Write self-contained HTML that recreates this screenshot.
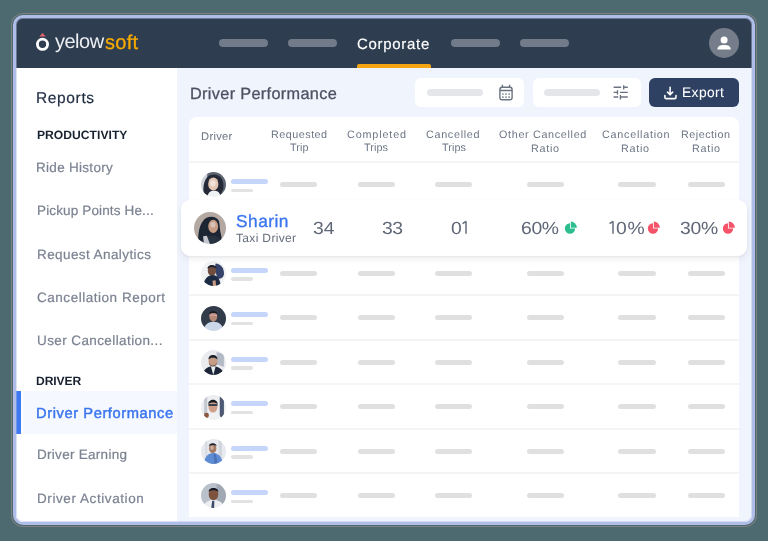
<!DOCTYPE html>
<html><head><meta charset="utf-8">
<style>
*{margin:0;padding:0;box-sizing:border-box}
html,body{width:768px;height:541px;overflow:hidden;background:#4c6a70;font-family:"Liberation Sans",sans-serif}
.abs{position:absolute}
.t{position:absolute;white-space:nowrap;line-height:1;will-change:transform;text-rendering:geometricPrecision}
#win{position:absolute;left:13px;top:15px;width:742px;height:510px;border:3px solid #afbde7;border-radius:10px;overflow:hidden;
 box-shadow:0 0 0 1px #4c6a70,0 0 0 2px #807f82;background:#f0f4fd}
.pill{position:absolute;height:8px;border-radius:4px;background:#727b89;top:21px;width:49px}
.sk{position:absolute;height:5.2px;width:37.2px;border-radius:3px;background:#e0e0e0}
.skb{position:absolute;height:5px;width:36.8px;border-radius:3px;background:#c6d6fb}
.sks{position:absolute;height:3.6px;width:22px;border-radius:2px;background:#e2e2e2}
.sep{position:absolute;left:173px;width:550px;height:2px;background:#f4f4f5}
</style></head><body>
<div id="win">
  <div class="abs" style="left:0;top:0;width:736px;height:49.50px;background:#2e3d50"></div>
  <svg class="abs" style="left:18px;top:13px" width="17" height="21" viewBox="0 0 17 21">
    <path d="M5.3 5.6 L8.5 2 L11.7 5.6 Z" fill="#ea656b"/>
    <circle cx="8.5" cy="13.3" r="5.1" fill="none" stroke="#fff" stroke-width="2.8"/>
  </svg>
  <div class="pill" style="left:202.80px"></div>
  <div class="pill" style="left:272.00px"></div>
  <div class="pill" style="left:435.00px"></div>
  <div class="pill" style="left:504.00px"></div>
  <div class="abs" style="left:341.00px;top:46.00px;width:74px;height:3.5px;background:#f5a511;border-radius:2px 2px 0 0"></div>
  <svg class="abs" style="left:693.30px;top:9.90px" width="30" height="30" viewBox="0 0 30 30">
    <circle cx="15" cy="15" r="15" fill="#757d8a"/>
    <circle cx="15.1" cy="11.9" r="3.5" fill="#fff"/><path d="M8.4 21.5 C8.4 18.3 11 16.9 15.1 16.9 C19.2 16.9 21.8 18.3 21.8 21.5 Z" fill="#fff"/>
  </svg>

  <div class="abs" style="left:0;top:49.50px;width:160.60px;height:470px;background:#fff"></div>
  <div class="abs" style="left:7.00px;top:373.00px;width:153.60px;height:42.8px;background:#f5f8fe"></div>
  <div class="abs" style="left:0;top:373.00px;width:5.2px;height:42.8px;background:#3f78f3"></div>

  <div class="abs" style="left:399.40px;top:59.80px;width:108.6px;height:28.8px;background:#fff;border-radius:6px"></div>
  <div class="abs" style="left:411.00px;top:70.60px;width:56px;height:7.4px;background:#e4e6ea;border-radius:4px"></div>
  <svg class="abs" style="left:482.00px;top:65.50px" width="16" height="18" viewBox="0 0 16 18">
    <rect x="1.9" y="3.2" width="12.2" height="12.6" rx="2.2" fill="none" stroke="#6b7281" stroke-width="1.4"/>
    <line x1="1.9" y1="6.5" x2="14.1" y2="6.5" stroke="#6b7281" stroke-width="1.3"/>
    <line x1="4.4" y1="0.8" x2="4.4" y2="3.6" stroke="#6b7281" stroke-width="1.4"/>
    <line x1="11.6" y1="0.8" x2="11.6" y2="3.6" stroke="#6b7281" stroke-width="1.4"/>
    <g fill="#6b7281"><circle cx="4.9" cy="10" r=".85"/><circle cx="8" cy="10" r=".85"/><circle cx="11.1" cy="10" r=".85"/><circle cx="4.9" cy="13.1" r=".85"/><circle cx="8" cy="13.1" r=".85"/><circle cx="11.1" cy="13.1" r=".85"/></g>
  </svg>
  <div class="abs" style="left:516.70px;top:59.80px;width:108.3px;height:28.8px;background:#fff;border-radius:6px"></div>
  <div class="abs" style="left:528.00px;top:70.60px;width:56px;height:7.4px;background:#e4e6ea;border-radius:4px"></div>
  <svg class="abs" style="left:596.00px;top:66.00px" width="17" height="17" viewBox="0 0 17 17">
    <g stroke="#6b7281" stroke-width="1.35" fill="none">
      <line x1="1.6" y1="3.2" x2="9.2" y2="3.2"/><line x1="11.7" y1="1.2" x2="11.7" y2="5.6"/><line x1="11.7" y1="3.2" x2="15.8" y2="3.2"/>
      <line x1="1.6" y1="8.3" x2="5.5" y2="8.3"/><line x1="5.5" y1="6.2" x2="5.5" y2="10.4"/><line x1="8" y1="8.3" x2="15.8" y2="8.3"/>
      <line x1="1.6" y1="13" x2="6.2" y2="13"/><line x1="8.4" y1="11" x2="8.4" y2="15.4"/><line x1="8.4" y1="13" x2="15.8" y2="13"/>
    </g>
  </svg>
  <div class="abs" style="left:633.00px;top:59.70px;width:90px;height:29.2px;background:#2e4163;border-radius:6px"></div>
  <svg class="abs" style="left:647.00px;top:67.50px" width="15" height="14" viewBox="0 0 15 14">
    <g stroke="#fff" stroke-width="1.6" fill="none" stroke-linecap="round" stroke-linejoin="round">
      <path d="M1.9 9.6 V11.2 Q1.9 12.6 3.3 12.6 H11.6 Q13 12.6 13 11.2 V9.6"/><path d="M7.1 1.4 V8.6"/><path d="M4.5 6.2 L7.1 8.7 L9.7 6.2"/>
    </g>
  </svg>

  <div class="abs" style="left:173.00px;top:99.00px;width:550px;height:399.5px;background:#fff;border-radius:8px 8px 0 0"></div>
  <div class="sep" style="top:143.10px"></div>
  <div class="sep" style="top:187.50px"></div><div class="sep" style="top:231.90px"></div><div class="sep" style="top:276.30px"></div><div class="sep" style="top:320.70px"></div><div class="sep" style="top:365.10px"></div><div class="sep" style="top:409.50px"></div><div class="sep" style="top:453.90px"></div><svg class="abs" style="left:185.20px;top:154.30px" width="25" height="25" viewBox="0 0 24 24"><defs><clipPath id="c0"><circle cx="12" cy="12" r="12"/></clipPath><filter id="f0" x="-10%" y="-10%" width="120%" height="120%"><feGaussianBlur stdDeviation="0.4"/></filter></defs><g clip-path="url(#c0)"><g filter="url(#f0)"><rect width="24" height="24" fill="#5d6470"/><rect width="6" height="24" fill="#cfd4db"/><path d="M3 24 C1 14 3 3 12 2.5 C20 2.5 22 9 21.5 16 L18 24 Z" fill="#252c39"/><ellipse cx="11.8" cy="11.5" rx="4.9" ry="6.3" fill="#e4c6b5"/><ellipse cx="11.5" cy="11" rx="2.6" ry="3" fill="#f0e2da"/><path d="M6 24 C7 19.5 9 18 12.5 18 C16 18 18 19.5 19 24 Z" fill="#f1f2f4"/></g></g></svg><div class="skb" style="left:214.90px;top:160.90px"></div><div class="sks" style="left:214.90px;top:170.50px"></div><div class="sk" style="left:264.30px;top:163.90px"></div><div class="sk" style="left:342.00px;top:163.90px"></div><div class="sk" style="left:418.70px;top:163.90px"></div><div class="sk" style="left:511.20px;top:163.90px"></div><div class="sk" style="left:602.40px;top:163.90px"></div><div class="sk" style="left:671.50px;top:163.90px"></div><svg class="abs" style="left:185.20px;top:243.18px" width="25" height="25" viewBox="0 0 24 24"><defs><clipPath id="c2"><circle cx="12" cy="12" r="12"/></clipPath><filter id="f2" x="-10%" y="-10%" width="120%" height="120%"><feGaussianBlur stdDeviation="0.4"/></filter></defs><g clip-path="url(#c2)"><g filter="url(#f2)"><rect width="24" height="24" fill="#f0f1f3"/><path d="M14 2.5 C19 3 22.5 7 22 13 C21.5 16 19 17.5 16 17 L13 8 Z" fill="#34436a"/><ellipse cx="10.5" cy="9" rx="4" ry="5.2" fill="#6f4e3e"/><path d="M6.3 7.5 C6 3 15 2.5 14.8 7.5 C13 5.5 8 5.5 6.3 7.5 Z" fill="#1d2330"/><path d="M2 24 C3 17 7 13.5 11 13.5 C15 13.5 18 16 19 24 Z" fill="#1e2a42"/><path d="M11 19 L14 18.5 L14.5 24 L11.5 24 Z" fill="#c89a80"/></g></g></svg><div class="skb" style="left:214.90px;top:249.78px"></div><div class="sks" style="left:214.90px;top:259.38px"></div><div class="sk" style="left:264.30px;top:252.78px"></div><div class="sk" style="left:342.00px;top:252.78px"></div><div class="sk" style="left:418.70px;top:252.78px"></div><div class="sk" style="left:511.20px;top:252.78px"></div><div class="sk" style="left:602.40px;top:252.78px"></div><div class="sk" style="left:671.50px;top:252.78px"></div><svg class="abs" style="left:185.20px;top:287.62px" width="25" height="25" viewBox="0 0 24 24"><defs><clipPath id="c3"><circle cx="12" cy="12" r="12"/></clipPath><filter id="f3" x="-10%" y="-10%" width="120%" height="120%"><feGaussianBlur stdDeviation="0.4"/></filter></defs><g clip-path="url(#c3)"><g filter="url(#f3)"><rect width="24" height="24" fill="#323a48"/><ellipse cx="11.8" cy="10" rx="3.8" ry="5" fill="#b58b78"/><path d="M8 8 C7.8 3.8 15.8 3.8 15.6 8 C14 6.3 9.6 6.3 8 8 Z" fill="#161a22"/><rect x="8.3" y="8.2" width="7" height="1.3" fill="#d9a0a8"/><path d="M2 24 C3 18 7 15 12 15 C17 15 21 18 22 24 Z" fill="#cdd7ea"/></g></g></svg><div class="skb" style="left:214.90px;top:294.22px"></div><div class="sks" style="left:214.90px;top:303.82px"></div><div class="sk" style="left:264.30px;top:297.22px"></div><div class="sk" style="left:342.00px;top:297.22px"></div><div class="sk" style="left:418.70px;top:297.22px"></div><div class="sk" style="left:511.20px;top:297.22px"></div><div class="sk" style="left:602.40px;top:297.22px"></div><div class="sk" style="left:671.50px;top:297.22px"></div><svg class="abs" style="left:185.20px;top:332.06px" width="25" height="25" viewBox="0 0 24 24"><defs><clipPath id="c4"><circle cx="12" cy="12" r="12"/></clipPath><filter id="f4" x="-10%" y="-10%" width="120%" height="120%"><feGaussianBlur stdDeviation="0.4"/></filter></defs><g clip-path="url(#c4)"><g filter="url(#f4)"><rect width="24" height="24" fill="#e9ebef"/><path d="M15 2 L22 4 L22 16 L15 14 Z" fill="#b3bac5"/><ellipse cx="11.5" cy="10.8" rx="4.3" ry="5.3" fill="#c79c84"/><path d="M7.2 9 C7 3.5 16 3.5 15.8 9 C14.2 6.8 8.8 6.8 7.2 9 Z" fill="#1a202c"/><path d="M7.6 12 C8 16.8 15 16.8 15.4 12 C14.5 14.5 13 15 11.5 15 C10 15 8.5 14.5 7.6 12 Z" fill="#2b2f38"/><path d="M1 24 C2.5 18.5 6.5 15.5 11.5 15.5 C16.5 15.5 21 18.5 23 24 Z" fill="#1f2838"/><path d="M9.5 15.8 L11.8 24 L14 15.8 Z" fill="#eceef1"/></g></g></svg><div class="skb" style="left:214.90px;top:338.66px"></div><div class="sks" style="left:214.90px;top:348.26px"></div><div class="sk" style="left:264.30px;top:341.66px"></div><div class="sk" style="left:342.00px;top:341.66px"></div><div class="sk" style="left:418.70px;top:341.66px"></div><div class="sk" style="left:511.20px;top:341.66px"></div><div class="sk" style="left:602.40px;top:341.66px"></div><div class="sk" style="left:671.50px;top:341.66px"></div><svg class="abs" style="left:185.20px;top:376.50px" width="25" height="25" viewBox="0 0 24 24"><defs><clipPath id="c5"><circle cx="12" cy="12" r="12"/></clipPath><filter id="f5" x="-10%" y="-10%" width="120%" height="120%"><feGaussianBlur stdDeviation="0.4"/></filter></defs><g clip-path="url(#c5)"><g filter="url(#f5)"><rect width="24" height="24" fill="#eceef1"/><rect x="3" width="3" height="24" fill="#c3c8d0"/><rect x="18" width="4" height="24" fill="#4d5972"/><ellipse cx="11.5" cy="11.2" rx="4.3" ry="5.8" fill="#cf9f88"/><path d="M7 9 C7 3.2 16 3.2 16 9 C14.5 6.5 8.5 6.5 7 9 Z" fill="#161b24"/><rect x="7" y="8.6" width="9" height="2" rx="0.8" fill="#3a4250"/><path d="M3 24 C4 19 8 17 11.5 17 C15 17 19 19 20 24 Z" fill="#f0f1f3"/><rect x="3" y="17" width="4.5" height="5" rx="2" fill="#8a5a44"/></g></g></svg><div class="skb" style="left:214.90px;top:383.10px"></div><div class="sks" style="left:214.90px;top:392.70px"></div><div class="sk" style="left:264.30px;top:386.10px"></div><div class="sk" style="left:342.00px;top:386.10px"></div><div class="sk" style="left:418.70px;top:386.10px"></div><div class="sk" style="left:511.20px;top:386.10px"></div><div class="sk" style="left:602.40px;top:386.10px"></div><div class="sk" style="left:671.50px;top:386.10px"></div><svg class="abs" style="left:185.20px;top:420.94px" width="25" height="25" viewBox="0 0 24 24"><defs><clipPath id="c6"><circle cx="12" cy="12" r="12"/></clipPath><filter id="f6" x="-10%" y="-10%" width="120%" height="120%"><feGaussianBlur stdDeviation="0.4"/></filter></defs><g clip-path="url(#c6)"><g filter="url(#f6)"><rect width="24" height="24" fill="#e7e9ee"/><rect x="17" width="3" height="24" fill="#d0d4dc"/><rect x="4" width="2" height="24" fill="#d6dae1"/><ellipse cx="11.2" cy="9" rx="3.6" ry="4.6" fill="#a47a64"/><ellipse cx="10.5" cy="8.5" rx="1.6" ry="2" fill="#c8b0a4"/><path d="M7.5 7 C7.5 3 15 3 15 7 C13.5 5.5 9 5.5 7.5 7 Z" fill="#1c2230"/><path d="M2.5 24 C3.5 17 7 13.5 11.5 13.5 C16 13.5 20 16.5 21 24 Z" fill="#5d8bd4"/><path d="M12 14 L13 24 L16 24 L14 14 Z" fill="#4a74b8"/></g></g></svg><div class="skb" style="left:214.90px;top:427.54px"></div><div class="sks" style="left:214.90px;top:437.14px"></div><div class="sk" style="left:264.30px;top:430.54px"></div><div class="sk" style="left:342.00px;top:430.54px"></div><div class="sk" style="left:418.70px;top:430.54px"></div><div class="sk" style="left:511.20px;top:430.54px"></div><div class="sk" style="left:602.40px;top:430.54px"></div><div class="sk" style="left:671.50px;top:430.54px"></div><svg class="abs" style="left:185.20px;top:465.38px" width="25" height="25" viewBox="0 0 24 24"><defs><clipPath id="c7"><circle cx="12" cy="12" r="12"/></clipPath><filter id="f7" x="-10%" y="-10%" width="120%" height="120%"><feGaussianBlur stdDeviation="0.4"/></filter></defs><g clip-path="url(#c7)"><g filter="url(#f7)"><rect width="24" height="24" fill="#bac1cb"/><rect x="15" width="9" height="24" fill="#a1a8b3"/><ellipse cx="12" cy="10.8" rx="4.6" ry="5.8" fill="#7d5341"/><path d="M7.3 8.5 C7.3 3.5 16.7 3.5 16.7 8.5 C15 6.5 9 6.5 7.3 8.5 Z" fill="#141820"/><path d="M1.5 24 C3 18.5 7 16.3 12 16.3 C17 16.3 21 18.5 22.5 24 Z" fill="#eceef1"/><path d="M10.8 17 L9.8 24 L12.6 24 L12.8 17 Z" fill="#3c4a6a"/></g></g></svg><div class="skb" style="left:214.90px;top:471.98px"></div><div class="sks" style="left:214.90px;top:481.58px"></div><div class="sk" style="left:264.30px;top:474.98px"></div><div class="sk" style="left:342.00px;top:474.98px"></div><div class="sk" style="left:418.70px;top:474.98px"></div><div class="sk" style="left:511.20px;top:474.98px"></div><div class="sk" style="left:602.40px;top:474.98px"></div><div class="sk" style="left:671.50px;top:474.98px"></div>
  <div class="abs" style="left:165.00px;top:182.00px;width:566px;height:56px;background:#fff;border-radius:9px;box-shadow:0 3px 6px rgba(30,35,50,0.08),0 1px 2px rgba(30,35,50,0.05)"></div><svg class="abs" style="left:178.20px;top:193.90px" width="32" height="32" viewBox="0 0 24 24"><defs><clipPath id="c1"><circle cx="12" cy="12" r="12"/></clipPath><filter id="f1" x="-10%" y="-10%" width="120%" height="120%"><feGaussianBlur stdDeviation="0.4"/></filter></defs><g clip-path="url(#c1)"><g filter="url(#f1)"><rect width="24" height="24" fill="#b4a8a2"/><path d="M3.5 24 C2.5 17 4 8 9 4.5 C13 2.5 17.5 3.5 18.8 7 C19.5 10 19.2 14 20.5 18 L21 24 Z" fill="#1f2533"/><ellipse cx="14.4" cy="10.8" rx="3.7" ry="4.9" fill="#c79d86"/><ellipse cx="14.2" cy="9.6" rx="1.9" ry="2.1" fill="#dac2b6"/><path d="M5 24 C6 20 9 17.8 13.5 17.8 C18 17.8 20.5 19.5 21.5 24 Z" fill="#283040"/><path d="M6.8 18.2 L9.6 17.8 L12 24 L7.5 24 Z" fill="#c6c7cc"/></g></g></svg><svg class="abs" style="left:548.20px;top:203.10px" width="14" height="14" viewBox="0 0 14 14"><path d="M6 7.5 V2.3 A5.2 5.2 0 1 0 11.2 7.5 Z" fill="#2ebd8e"/><path d="M6.8 6.7 V0.6 A6.1 6.1 0 0 1 12.9 6.7 Z" fill="#2ebd8e"/></svg><svg class="abs" style="left:445.20px;top:202.40px" width="8" height="16" viewBox="0 0 8 16"><path d="M5 1.3 V13.80 M5 1.4 L1.6 3.6" stroke="#606877" stroke-width="1.45" fill="none" stroke-linecap="butt"/></svg><svg class="abs" style="left:592.30px;top:202.40px" width="8" height="16" viewBox="0 0 8 16"><path d="M5 1.3 V13.80 M5 1.4 L1.6 3.6" stroke="#606877" stroke-width="1.45" fill="none" stroke-linecap="butt"/></svg><svg class="abs" style="left:631.00px;top:203.10px" width="14" height="14" viewBox="0 0 14 14"><path d="M6 7.5 V2.3 A5.2 5.2 0 1 0 11.2 7.5 Z" fill="#f5536a"/><path d="M6.8 6.7 V0.6 A6.1 6.1 0 0 1 12.9 6.7 Z" fill="#f5536a"/></svg><svg class="abs" style="left:706.20px;top:203.10px" width="14" height="14" viewBox="0 0 14 14"><path d="M6 7.5 V2.3 A5.2 5.2 0 1 0 11.2 7.5 Z" fill="#f5536a"/><path d="M6.8 6.7 V0.6 A6.1 6.1 0 0 1 12.9 6.7 Z" fill="#f5536a"/></svg>
  <div class="t" id="reports" style="left:20.20px;top:72.65px;font-size:15.5px;font-weight:400;color:#1f2c42;letter-spacing:0.633px;-webkit-text-stroke:0.2px #1f2c42">Reports</div>
<div class="t" id="prod" style="left:20.60px;top:110.65px;font-size:12.1px;font-weight:700;color:#18212f;letter-spacing:0.036px">PRODUCTIVITY</div>
<div class="t" id="ride" style="left:20.40px;top:142.65px;font-size:13.5px;font-weight:400;color:#7b8291;letter-spacing:0.291px;-webkit-text-stroke:0.2px #7b8291">Ride History</div>
<div class="t" id="pick" style="left:20.60px;top:186.25px;font-size:13.5px;font-weight:400;color:#7b8291;letter-spacing:0.144px;-webkit-text-stroke:0.2px #7b8291">Pickup Points He...</div>
<div class="t" id="reqa" style="left:20.60px;top:229.60px;font-size:13.5px;font-weight:400;color:#7b8291;letter-spacing:0.412px;-webkit-text-stroke:0.2px #7b8291">Request Analytics</div>
<div class="t" id="canr" style="left:21.00px;top:273.40px;font-size:13.5px;font-weight:400;color:#7b8291;letter-spacing:0.528px;-webkit-text-stroke:0.2px #7b8291">Cancellation Report</div>
<div class="t" id="userc" style="left:20.60px;top:315.65px;font-size:13.5px;font-weight:400;color:#7b8291;letter-spacing:0.400px;-webkit-text-stroke:0.2px #7b8291">User Cancellation...</div>
<div class="t" id="driver" style="left:20.20px;top:356.80px;font-size:12.1px;font-weight:700;color:#18212f;letter-spacing:-0.080px">DRIVER</div>
<div class="t" id="dperf" style="left:20.20px;top:389.45px;font-size:14.7px;font-weight:400;color:#3b75ee;letter-spacing:0.576px;-webkit-text-stroke:0.45px #3b75ee">Driver Performance</div>
<div class="t" id="dearn" style="left:20.60px;top:430.45px;font-size:13.5px;font-weight:400;color:#7b8291;letter-spacing:0.285px;-webkit-text-stroke:0.2px #7b8291">Driver Earning</div>
<div class="t" id="dact" style="left:20.60px;top:473.65px;font-size:13.5px;font-weight:400;color:#7b8291;letter-spacing:0.575px;-webkit-text-stroke:0.2px #7b8291">Driver Activation</div>
<div class="t" id="title" style="left:173.60px;top:67.65px;font-size:16.3px;font-weight:400;color:#4b5263;letter-spacing:0.329px;-webkit-text-stroke:0.3px #4b5263">Driver Performance</div>
<div class="t" id="corp" style="left:341.00px;top:18.95px;font-size:15px;font-weight:400;color:#ffffff;letter-spacing:0.700px;-webkit-text-stroke:0.15px #ffffff">Corporate</div>
<div class="t" id="export" style="left:666.00px;top:68.05px;font-size:13.8px;font-weight:400;color:#ffffff;letter-spacing:0.400px;-webkit-text-stroke:0.05px #ffffff">Export</div>
<div class="t" id="logo" style="left:38.80px;top:13.65px;font-size:20px;font-weight:400;color:#eceef2;letter-spacing:-0.500px">yelow</div>
<div class="t" id="logo2" style="left:88.80px;top:15.20px;font-size:20px;font-weight:400;color:#f6aa00;letter-spacing:0.267px;-webkit-text-stroke:0.3px #f6aa00">soft</div>
<div class="t" id="thdriver" style="left:185.00px;top:114.00px;font-size:11.2px;font-weight:400;color:#6d7585;letter-spacing:0.300px">Driver</div>
<div class="t" id="th1a" style="left:254.60px;top:112.20px;font-size:10.8px;font-weight:400;color:#6d7585;letter-spacing:0.487px">Requested</div>
<div class="t" id="th1b" style="left:273.80px;top:125.15px;font-size:10.8px;font-weight:400;color:#6d7585;letter-spacing:0.133px">Trip</div>
<div class="t" id="th2a" style="left:331.20px;top:112.20px;font-size:10.8px;font-weight:400;color:#6d7585;letter-spacing:0.850px">Completed</div>
<div class="t" id="th2b" style="left:348.40px;top:125.15px;font-size:10.8px;font-weight:400;color:#6d7585;letter-spacing:0.075px">Trips</div>
<div class="t" id="th3a" style="left:410.00px;top:111.70px;font-size:10.8px;font-weight:400;color:#6d7585;letter-spacing:0.688px">Cancelled</div>
<div class="t" id="th3b" style="left:425.60px;top:125.15px;font-size:10.8px;font-weight:400;color:#6d7585;letter-spacing:0.075px">Trips</div>
<div class="t" id="th4a" style="left:483.40px;top:112.20px;font-size:10.8px;font-weight:400;color:#6d7585;letter-spacing:0.664px">Other Cancelled</div>
<div class="t" id="th4b" style="left:514.60px;top:125.65px;font-size:10.8px;font-weight:400;color:#6d7585;letter-spacing:0.725px">Ratio</div>
<div class="t" id="th5a" style="left:585.60px;top:112.20px;font-size:10.8px;font-weight:400;color:#6d7585;letter-spacing:0.736px">Cancellation</div>
<div class="t" id="th5b" style="left:605.00px;top:125.65px;font-size:10.8px;font-weight:400;color:#6d7585;letter-spacing:0.725px">Ratio</div>
<div class="t" id="th6a" style="left:665.00px;top:112.20px;font-size:10.8px;font-weight:400;color:#6d7585;letter-spacing:0.500px">Rejection</div>
<div class="t" id="th6b" style="left:675.60px;top:125.65px;font-size:10.8px;font-weight:400;color:#6d7585;letter-spacing:0.725px">Ratio</div>
<div class="t" id="sharin" style="left:220.00px;top:195.40px;font-size:17.3px;font-weight:400;color:#3b76f0;letter-spacing:0.500px;-webkit-text-stroke:0.35px #3b76f0">Sharin</div>
<div class="t" id="taxi" style="left:220.00px;top:214.05px;font-size:12px;font-weight:400;color:#666d7b;letter-spacing:0.340px">Taxi Driver</div>
<div class="t" id="v34" style="left:297.00px;top:201.55px;font-size:17.6px;font-weight:400;color:#606877;letter-spacing:0.000px;transform:scaleX(1.1);transform-origin:0 0">34</div>
<div class="t" id="v33" style="left:366.00px;top:201.55px;font-size:17.6px;font-weight:400;color:#606877;letter-spacing:-0.500px;transform:scaleX(1.1);transform-origin:0 0">33</div>
<div class="t" id="v01a" style="left:435.30px;top:201.55px;font-size:17.6px;font-weight:400;color:#606877;letter-spacing:0.000px;transform:scaleX(1.1);transform-origin:0 0">0</div>
<div class="t" id="v60" style="left:505.20px;top:201.55px;font-size:17.6px;font-weight:400;color:#606877;letter-spacing:-0.350px;transform:scaleX(1.1);transform-origin:0 0">60%</div>
<div class="t" id="v10b" style="left:599.60px;top:201.55px;font-size:17.6px;font-weight:400;color:#606877;letter-spacing:0.600px;transform:scaleX(1.1);transform-origin:0 0">0%</div>
<div class="t" id="v30" style="left:664.00px;top:201.55px;font-size:17.6px;font-weight:400;color:#606877;letter-spacing:-0.200px;transform:scaleX(1.1);transform-origin:0 0">30%</div>
  <div class="abs" style="left:0;top:0;right:0;bottom:0;border:1px solid rgba(175,189,231,0.45);border-radius:7px"></div>
</div>
</body></html>
